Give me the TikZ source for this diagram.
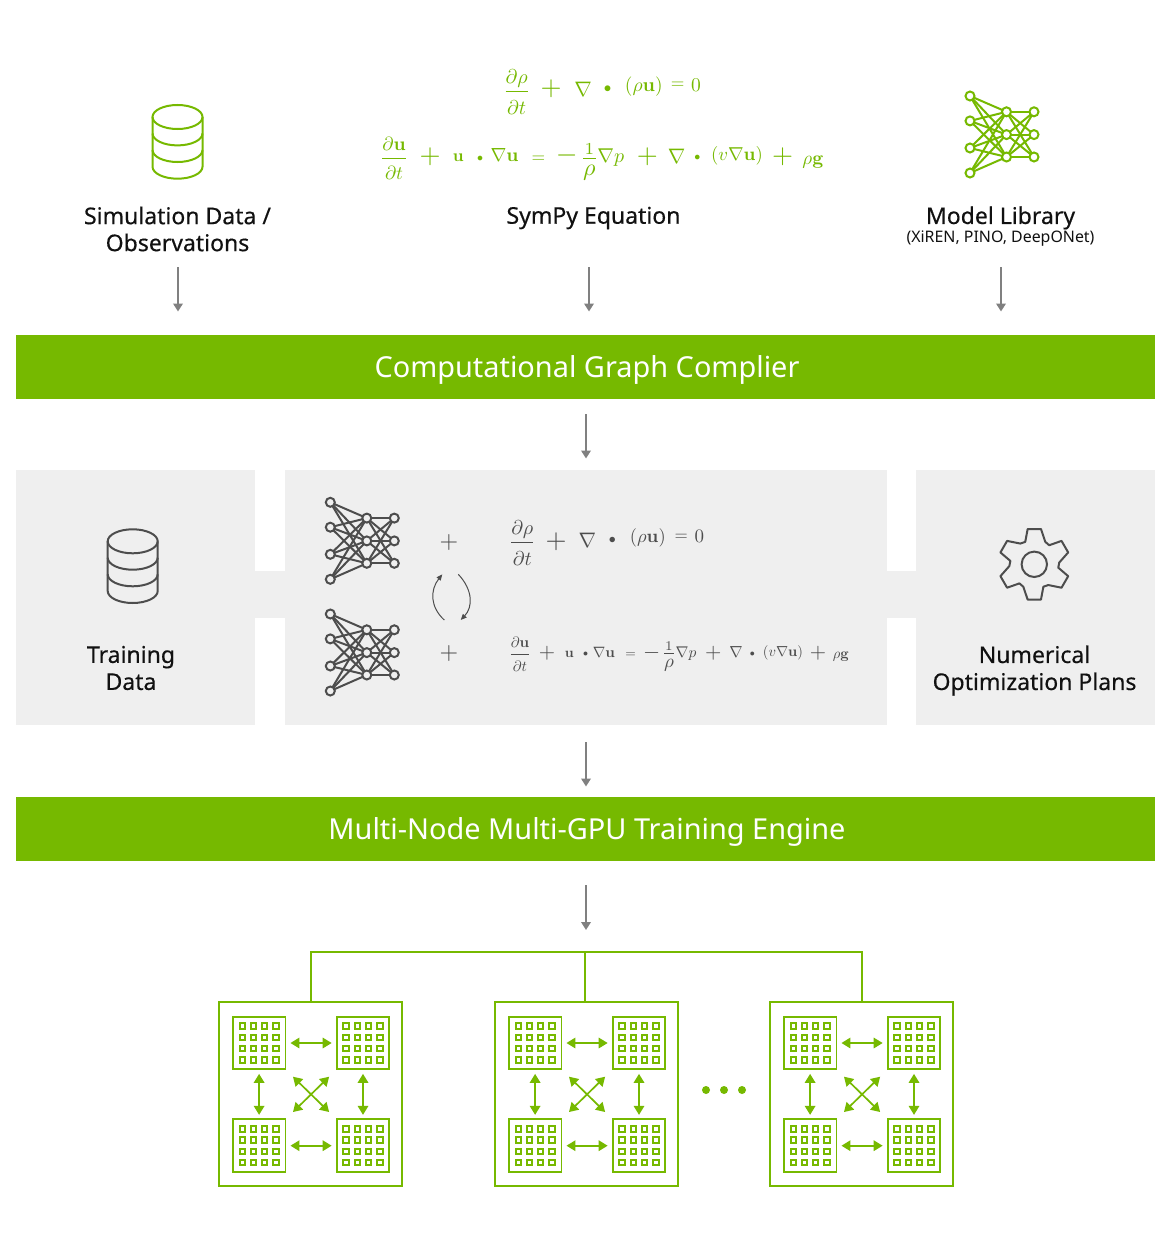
\documentclass[tikz,border=0pt]{standalone}
\usepackage[no-math]{fontspec}
\setmainfont{Noto Sans}
\newfontfamily\labelfont[FakeBold=0.35]{Noto Sans}
\usetikzlibrary{arrows.meta}
\definecolor{nvgreen}{HTML}{76B900}
\definecolor{panelgray}{HTML}{EFEFEF}
\definecolor{icongray}{HTML}{4D4D4D}
\definecolor{arrowgray}{HTML}{808080}
\definecolor{inkblack}{HTML}{111111}
\newcommand{\eqp}[5]{\node[eqpart,scale=#4] (#1) at ({#2},{#3+2.5*#4}) {$\displaystyle #5$};}
\newcommand{\dn}{\rule{0pt}{10pt}}
\newcommand{\up}{\rule[-1.5pt]{0pt}{1pt}}
\newcommand{\invrho}{\frac{\raisebox{-2.8pt}{$\scriptstyle 1$}}{\raisebox{2pt}{$\rho$}}}
\newcommand{\bartext}[1]{\raisebox{-10pt}[0pt][0pt]{\hspace*{3pt}#1}}
\tikzset{
  flowarrow/.style={draw=arrowgray,line width=2.5pt,-{Triangle[width=9.5pt,length=8pt]}},
  bar/.style={fill=nvgreen,text=white,minimum width=1139pt,minimum height=64pt,inner sep=0,outer sep=0,font=\fontsize{28.9}{32}\selectfont},
  lbl/.style={text=inkblack,align=center,inner sep=0,font=\labelfont\fontsize{23}{27}\selectfont},
  eqpart/.style={anchor=base,inner sep=0,outer sep=0},
  netdot/.style={draw,circle,inner sep=0,minimum size=9pt,outer sep=0},
  chip/.style={draw=nvgreen,line width=1.9pt,inner sep=0,outer sep=0,minimum size=52.7pt},
  cell/.style={draw=nvgreen,line width=2pt,inner sep=0,outer sep=0,minimum size=5.5pt},
  duplex/.style={draw=nvgreen,line width=1.7pt,{Triangle[width=10.5pt,length=9pt]}-{Triangle[width=10.5pt,length=9pt]}},
  link/.style={draw=nvgreen,line width=2pt},
  net/.pic={
    \foreach \n/\px/\py in {a1/0/0,a2/0/24.9,a3/0/52,a4/0/77,b1/36.5/15.8,b2/36.5/38.6,b3/36.5/61,c1/64/15.8,c2/64/38.6,c3/64/61}
      \node[netdot] (\n) at (\px,\py) {};
    \foreach \s in {a1,a2,a3,a4} \foreach \t in {b1,b2,b3} \draw (\s) -- (\t);
    \foreach \s in {b1,b2,b3} \foreach \t in {c1,c2,c3} \draw (\s) -- (\t);
  },
  database/.pic={
    \draw (0,12) ellipse [x radius=25,y radius=12];
    \draw (-25,12) -- (-25,61.7) arc[start angle=180,end angle=0,x radius=25,y radius=12] -- (25,12);
    \draw (-25,28.4) arc[start angle=180,end angle=0,x radius=25,y radius=12];
    \draw (-25,45) arc[start angle=180,end angle=0,x radius=25,y radius=12];
  },
  cluster/.pic={
    \node[draw=nvgreen,line width=2pt,inner sep=0,outer sep=0,minimum width=183.2pt,minimum height=183.7pt] (box) at (91.6,91.85) {};
    \foreach \n/\cx/\cy in {tl/40.1/40.7,tr/144/40.7,bl/40.1/143.4,br/144/143.4}{
      \node[chip] (\n) at (\cx,\cy) {};
      \foreach \i in {-16.8,-5.6,5.6,16.8} \foreach \j in {-16.8,-5.6,5.6,16.8}
        \node[cell] at (\cx+\i,\cy+\j) {};
    }
    \draw[duplex,shorten >=5pt,shorten <=5pt] (tl.east) -- (tr.west);
    \draw[duplex,shorten >=5pt,shorten <=5pt] (bl.east) -- (br.west);
    \draw[duplex,shorten >=4.5pt,shorten <=4.5pt] (tl.south) -- (bl.north);
    \draw[duplex,shorten >=4.5pt,shorten <=4.5pt] (tr.south) -- (br.north);
    \draw[duplex,shorten >=10.5pt,shorten <=10.5pt] (tl.south east) -- (br.north west);
    \draw[duplex,shorten >=10.5pt,shorten <=10.5pt] (tr.south west) -- (bl.north east);
  }
}
\begin{document}
\begin{tikzpicture}[x=1pt,y=-1pt]
\useasboundingbox[fill=white] (0,0) rectangle (1156,1260);

% top row icons and labels
\pic[color=nvgreen,line width=2pt] (dbtop) at (177.5,105) {database};
\pic[color=nvgreen,line width=2pt] (nettop) at (970,96) {net};
\node[lbl] (simlabel) at (177.5,229) {Simulation Data /\\Observations};
\node[lbl] (symlabel) at (593.5,218) {SymPy Equation};
\node[lbl] (modlabel) at (1000.5,218) {Model Library};
\node[text=inkblack,inner sep=0,font=\fontsize{15.9}{18}\selectfont] (modsub) at (1000.5,238.5) {(XiREN, PINO, DeepONet)};

% green equations
\begin{scope}[text=nvgreen]
\eqp{ga1}{516.7}{91.7}{2.0}{\frac{\partial\rho}{\dn\partial t}}
\eqp{ga2}{551}{88.3}{2.7}{+}
\eqp{ga3}{583}{91}{2.1}{\nabla}
\eqp{ga4}{607.7}{88.3}{1.5}{\bullet}
\eqp{ga5}{643.8}{86.7}{1.95}{(\rho\mathbf{u})}
\eqp{ga6}{677.7}{84.3}{1.75}{=}
\eqp{ga7}{696}{86.4}{1.95}{0}
\eqp{gb1}{394}{158.3}{1.9}{\frac{\up\partial\mathbf{u}}{\dn\partial t}}
\eqp{gb2}{430}{156.7}{2.7}{+}
\eqp{gb3}{458.3}{157.7}{1.7}{\mathbf{u}}
\eqp{gb4}{480}{158.3}{1.2}{\bullet}
\eqp{gb5}{504.5}{157}{1.9}{\nabla\mathbf{u}}
\eqp{gb6}{538.3}{158}{1.75}{=}
\eqp{gb7}{566.7}{156}{2.8}{-}
\eqp{gb8}{589.3}{158}{2.4}{\invrho}
\eqp{gb9}{610.8}{157.5}{2.0}{\nabla p}
\eqp{gb10}{647.3}{156.7}{2.7}{+}
\eqp{gb11}{676.7}{157.8}{2.1}{\nabla}
\eqp{gb12}{697.3}{157.3}{1.2}{\bullet}
\eqp{gb13}{737}{156}{1.87}{(v\nabla\mathbf{u})}
\eqp{gb14}{782.7}{156.7}{2.7}{+}
\eqp{gb15}{813}{160}{1.9}{\rho\mathbf{g}}
\end{scope}

% bars
\node[bar] (compiler) at (585.5,367) {\bartext{Computational Graph Complier}};
\node[bar] (engine) at (585.5,829.2) {\bartext{Multi-Node Multi-GPU Training Engine}};

% top arrows
\coordinate (a1s) at (178,267); \coordinate (a1e) at (178,311.5);
\coordinate (a2s) at (589,267); \coordinate (a2e) at (589,311.5);
\coordinate (a3s) at (1001,267); \coordinate (a3e) at (1001,311.5);
\coordinate (a4s) at (586,414); \coordinate (a4e) at (586,458.5);
\coordinate (a5s) at (586,742); \coordinate (a5e) at (586,786.5);
\coordinate (a6s) at (586,885); \coordinate (a6e) at (586,930);
\draw[flowarrow] (a1s) -- (a1e);
\draw[flowarrow] (a2s) -- (a2e);
\draw[flowarrow] (a3s) -- (a3e);
\draw[flowarrow] (a4s) -- (a4e);
\draw[flowarrow] (a5s) -- (a5e);
\draw[flowarrow] (a6s) -- (a6e);

% panels
\fill[panelgray] (255,571) rectangle (916,618);
\fill[panelgray] (16,470) rectangle (255.3,725);
\fill[panelgray] (285,470) rectangle (886.5,725);
\fill[panelgray] (916,470) rectangle (1155,725);

\pic[color=icongray,line width=2pt] (dbmid) at (132.7,529.3) {database};
\node[lbl] (trainlabel) at (131,668) {Training\\Data};
\node[lbl] (optlabel) at (1034.5,670.5) {Numerical\\Optimization Plans};

% gear
\draw[icongray,line width=2pt] (1034.3,564.3) circle [radius=12.7];
\begin{scope}[shift={(1034.3,564.3)}]
\draw[icongray,line width=2pt,line join=round] (-100.7:35.9)
  \foreach \k in {0,60,...,300} {
    -- ({\k-100.7}:35.9) -- ({\k-79.3}:35.9) -- ({\k-64}:25) -- ({\k-52}:24.2)
  } -- cycle;
\end{scope}

% nets
\pic[color=icongray,line width=2pt] (net1) at (330.3,502.3) {net};
\pic[color=icongray,line width=2pt] (net2) at (330.3,614) {net};
\begin{scope}[text=icongray]
\eqp{plus1}{449}{542}{2.4}{+}
\eqp{plus2}{449}{653.5}{2.4}{+}
\end{scope}

% cycle arrows
\coordinate (cl1) at (444.3,620); \coordinate (cl2) at (442.3,574.3);
\coordinate (cr1) at (458.3,574.3); \coordinate (cr2) at (460.7,620);
\draw[icongray,line width=1pt,-{Triangle[width=5pt,length=6pt]}] (cl1) .. controls (430,607) and (430,590) .. (cl2);
\draw[icongray,line width=1pt,-{Triangle[width=5pt,length=6pt]}] (cr1) .. controls (473,590) and (473,607) .. (cr2);

% gray equations
\begin{scope}[text=icongray]
\eqp{ha1}{522.3}{542.7}{2.0}{\frac{\partial\rho}{\dn\partial t}}
\eqp{ha2}{556}{541.7}{2.7}{+}
\eqp{ha3}{587.3}{541.8}{2.1}{\nabla}
\eqp{ha4}{612.3}{540}{1.4}{\bullet}
\eqp{ha5}{647.8}{538.3}{1.85}{(\rho\mathbf{u})}
\eqp{ha6}{681.3}{536}{1.7}{=}
\eqp{ha7}{699.3}{538}{1.9}{0}
\eqp{hb1}{520}{654}{1.5}{\frac{\up\partial\mathbf{u}}{\dn\partial t}}
\eqp{hb2}{547}{653.3}{2.1}{+}
\eqp{hb3}{569.3}{654}{1.4}{\mathbf{u}}
\eqp{hb4}{585.7}{653.5}{1}{\bullet}
\eqp{hb5}{604}{653.5}{1.5}{\nabla\mathbf{u}}
\eqp{hb6}{630.7}{654}{1.35}{=}
\eqp{hb7}{651.7}{652.7}{2.2}{-}
\eqp{hb8}{669}{653.3}{1.9}{\invrho}
\eqp{hb9}{686}{653.5}{1.55}{\nabla p}
\eqp{hb10}{713.3}{653.3}{2.1}{+}
\eqp{hb11}{736}{653.8}{1.6}{\nabla}
\eqp{hb12}{752.3}{653.5}{1}{\bullet}
\eqp{hb13}{783}{653}{1.45}{(v\nabla\mathbf{u})}
\eqp{hb14}{818}{653.3}{2.1}{+}
\eqp{hb15}{841}{655}{1.45}{\rho\mathbf{g}}
\end{scope}

% clusters
\pic (c1) at (219,1002.3) {cluster};
\pic (c2) at (495,1002.3) {cluster};
\pic (c3) at (770,1002.3) {cluster};
\coordinate (busy) at (0,952.3);
\coordinate (busl) at (c1box.north |- busy);
\coordinate (busm) at (584.7,952.3);
\coordinate (busmb) at (584.7,1002.3);
\coordinate (busr) at (c3box.north |- busy);
\draw[link] (c1box.north) -- (busl) -- (busr) -- (c3box.north);
\draw[link] (busm) -- (busmb);

% ellipsis dots
\fill[nvgreen] (706,1090) circle [radius=4];
\fill[nvgreen] (724,1090) circle [radius=4];
\fill[nvgreen] (742,1090) circle [radius=4];
\end{tikzpicture}
\end{document}
